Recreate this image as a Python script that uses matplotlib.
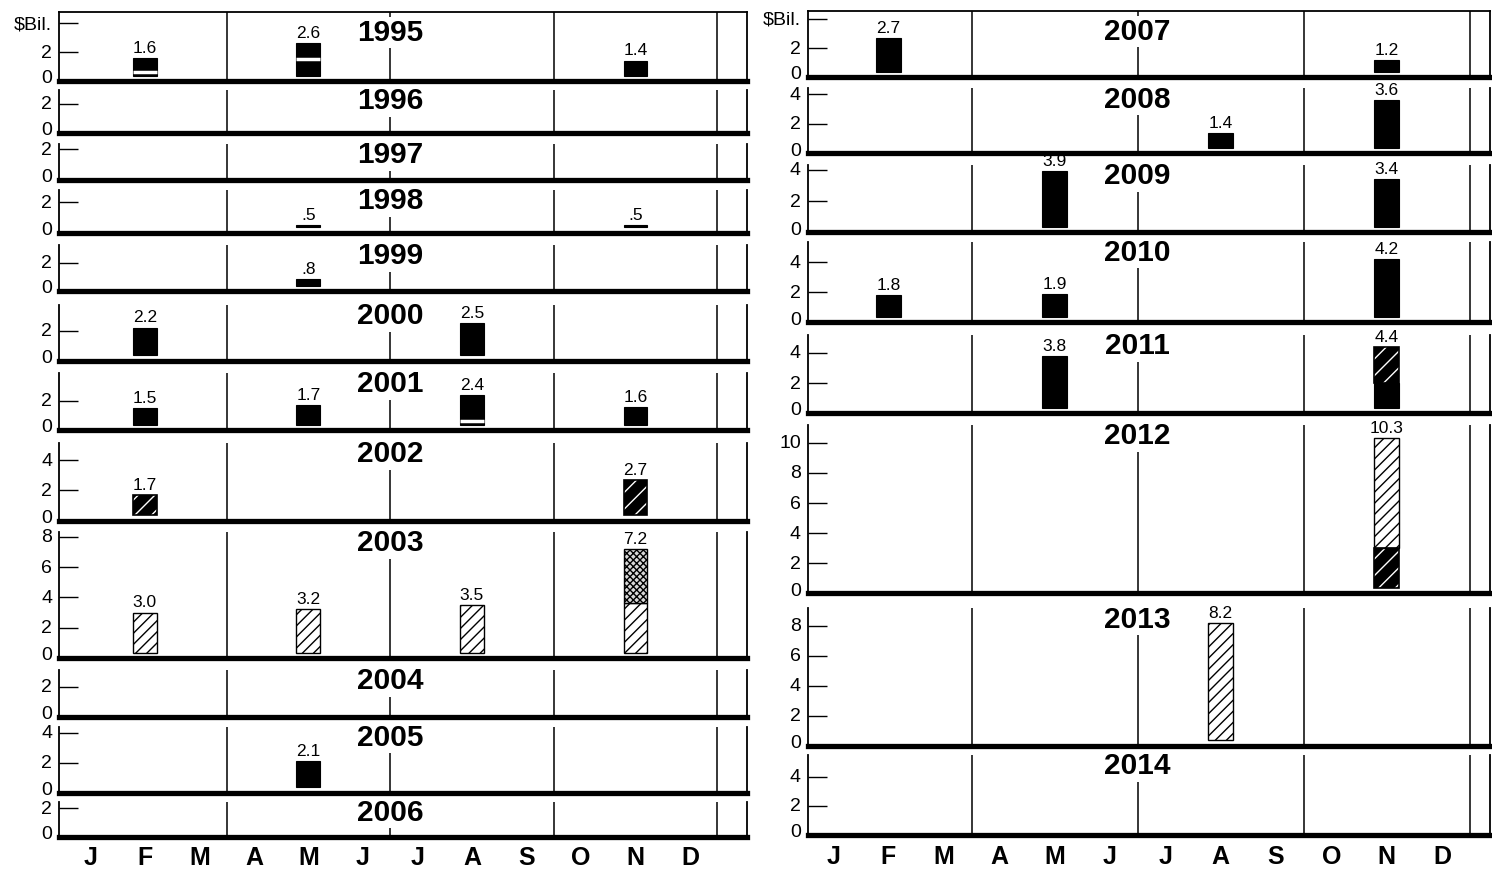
import matplotlib
matplotlib.use('Agg')
import matplotlib.pyplot as plt

plt.rcParams['font.family'] = ['Liberation Sans', 'DejaVu Sans']
plt.rcParams['hatch.linewidth'] = 1.0

# ---------------- data ----------------
MONTH_LABELS = ['J', 'F', 'M', 'A', 'M', 'J', 'J', 'A', 'S', 'O', 'N', 'D']
LEFT_YEARS = [1995, 1996, 1997, 1998, 1999, 2000, 2001, 2002, 2003, 2004, 2005, 2006]
RIGHT_YEARS = [2007, 2008, 2009, 2010, 2011, 2012, 2013, 2014]

BAR_YEAR = [1995, 1995, 1995, 1998, 1998, 1999, 2000, 2000,
            2001, 2001, 2001, 2001, 2002, 2002, 2003, 2003, 2003, 2003,
            2005, 2007, 2007, 2008, 2008, 2009, 2009, 2010, 2010, 2010,
            2011, 2011, 2012, 2013]
BAR_MONTH = [2, 5, 11, 5, 11, 5, 2, 8,
             2, 5, 8, 11, 2, 11, 2, 5, 8, 11,
             5, 2, 11, 8, 11, 5, 11, 2, 5, 11,
             5, 11, 11, 8]
BAR_SEGMENTS = [[0.6, 1.0], [1.5, 1.1], [1.4], [0.5], [0.5], [0.8], [2.2], [2.5],
                [1.5], [1.7], [0.6, 1.8], [1.6], [1.7], [2.7], [3.0], [3.2], [3.5], [3.6, 3.6],
                [2.1], [2.7], [1.2], [1.4], [3.6], [3.9], [3.4], [1.8], [1.9], [4.2],
                [3.8], [2.0, 2.4], [3.0, 7.3], [8.2]]
BAR_KINDS = [['solid', 'solid'], ['solid', 'solid'], ['solid'], ['solid'], ['solid'], ['solid'], ['solid'], ['solid'],
             ['solid'], ['solid'], ['solid', 'solid'], ['solid'], ['dark'], ['dark'], ['light'], ['light'], ['light'], ['light', 'cross'],
             ['solid'], ['solid'], ['solid'], ['solid'], ['solid'], ['solid'], ['solid'], ['solid'], ['solid'], ['solid'],
             ['solid'], ['solid', 'dark'], ['dark', 'light'], ['light']]
BAR_LABELS = ['1.6', '2.6', '1.4', '.5', '.5', '.8', '2.2', '2.5',
              '1.5', '1.7', '2.4', '1.6', '1.7', '2.7', '3.0', '3.2', '3.5', '7.2',
              '2.1', '2.7', '1.2', '1.4', '3.6', '3.9', '3.4', '1.8', '1.9', '4.2',
              '3.8', '4.4', '10.3', '8.2']

# ---------------- layout (pixels) ----------------
W, H = 1492, 876
# year: (top_px, zero_px, ymax)
PANEL_GEOM = {
    1995: (12, 80.5, 4.8), 1996: (90, 132.5, 2.97), 1997: (144, 180, 2.32),
    1998: (190, 232.5, 2.79), 1999: (245, 290.5, 3.25), 2000: (305, 360.5, 3.7),
    2001: (373, 430, 3.9), 2002: (443, 520.5, 5.13), 2003: (532, 658, 8.31),
    2004: (670, 716.5, 3.1), 2005: (726.5, 792.5, 4.4), 2006: (801.5, 836.5, 2.46),
    2007: (11, 77, 4.55), 2008: (88.3, 153.3, 4.4), 2009: (165, 232.3, 4.3),
    2010: (241.7, 322.3, 5.34), 2011: (335, 413, 5.19), 2012: (425, 593.3, 11.18),
    2013: (608.3, 745.7, 9.16), 2014: (755, 835, 5.48),
}
# column: (left_px, right_px, xmin, xmax)
COLS = {'left': (59.3, 746.7, -0.07, 12.54), 'right': (807.7, 1489.5, 0.04, 12.36)}
BAR_WIDTH = 0.44
BAR_BASE = 0.35
QUARTER_LINES = [3, 6, 9, 12]

fig = plt.figure(figsize=(W / 100, H / 100), dpi=100)


def draw_segments(ax, x, segs, kinds):
    cum = 0.0
    tops = []
    for i, (v, k) in enumerate(zip(segs, kinds)):
        bottom = BAR_BASE if i == 0 else cum
        top = cum + v
        h = top - bottom
        if k == 'solid':
            ax.bar(x, h, bottom=bottom, width=BAR_WIDTH, color='black', edgecolor='black',
                   linewidth=0.8, zorder=2)
        elif k == 'dark':
            ax.bar(x, h, bottom=bottom, width=BAR_WIDTH, color='black', edgecolor='white',
                   hatch='//', linewidth=0, zorder=2)
            ax.bar(x, h, bottom=bottom, width=BAR_WIDTH, fill=False, edgecolor='black',
                   linewidth=1.2, zorder=3)
        elif k == 'light':
            ax.bar(x, h, bottom=bottom, width=BAR_WIDTH, color='white', edgecolor='black',
                   hatch='///', linewidth=1.0, zorder=2)
        elif k == 'cross':
            ax.bar(x, h, bottom=bottom, width=BAR_WIDTH, color='#d8d8d8', edgecolor='black',
                   hatch='xxxxx', linewidth=1.0, zorder=2)
        cum = top
        tops.append(top)
    for i in range(len(segs) - 1):
        if kinds[i] == 'solid' and kinds[i + 1] == 'solid':
            ax.hlines(tops[i], x - BAR_WIDTH / 2, x + BAR_WIDTH / 2, color='white',
                      linewidth=2.5, zorder=4)
    return cum


def draw_panel(year, col, is_top, is_bottom):
    top_px, zero_px, ymax = PANEL_GEOM[year]
    lpx, rpx, x0, x1 = COLS[col]
    ax = fig.add_axes([lpx / W, 1 - zero_px / H, (rpx - lpx) / W, (zero_px - top_px) / H])
    ax.set_xlim(x0, x1)
    ax.set_ylim(0, ymax)
    ax.patch.set_alpha(0)

    for s in ['left', 'right']:
        ax.spines[s].set_linewidth(1.3)
    ax.spines['bottom'].set_linewidth(3.8)
    ax.spines['bottom'].set_capstyle('projecting')
    ax.spines['top'].set_visible(is_top)
    ax.spines['top'].set_linewidth(1.3)

    for q in QUARTER_LINES:
        ax.axvline(q, color='black', linewidth=1.1, zorder=1)

    yt = list(range(0, int(ymax) + 1, 2))
    labels = [str(v) for v in yt]
    if is_top:
        labels[-1] = '$Bil.'
    ax.set_yticks(yt)
    ax.set_yticklabels([])
    ax.tick_params(axis='y', direction='in', length=14, width=1.0, right=False)
    for v, lab in zip(yt, labels):
        dy = 1.5 if v == 0 else -0.8
        ax.annotate(lab, xy=(0, v), xycoords=('axes fraction', 'data'),
                    xytext=(-5, dy), textcoords='offset points', ha='right', va='center',
                    fontsize=14, annotation_clip=False)

    if is_bottom:
        ax.set_xticks([i + 0.5 for i in range(12)])
        ax.set_xticklabels(MONTH_LABELS, fontsize=18, fontweight='bold')
        ax.tick_params(axis='x', length=0, pad=7)
    else:
        ax.set_xticks([])

    off = -5 if is_top else 2
    ax.annotate(str(year), xy=(6, 1), xycoords=('data', 'axes fraction'),
                xytext=(0, off), textcoords='offset points', ha='center', va='top',
                fontsize=21.5, fontweight='bold', zorder=6,
                bbox=dict(boxstyle='square,pad=0.05', fc='white', ec='none'))

    for yr, m, segs, kinds, lab in zip(BAR_YEAR, BAR_MONTH, BAR_SEGMENTS, BAR_KINDS, BAR_LABELS):
        if yr != year:
            continue
        x = m - 0.5
        total = draw_segments(ax, x, segs, kinds)
        ax.annotate(lab, xy=(x, total), xytext=(0, 1.5), textcoords='offset points',
                    ha='center', va='bottom', fontsize=12.5, zorder=6)
    return ax


for i, y in enumerate(LEFT_YEARS):
    draw_panel(y, 'left', i == 0, i == len(LEFT_YEARS) - 1)
for i, y in enumerate(RIGHT_YEARS):
    draw_panel(y, 'right', i == 0, i == len(RIGHT_YEARS) - 1)

fig.savefig('out.png', dpi=100)
